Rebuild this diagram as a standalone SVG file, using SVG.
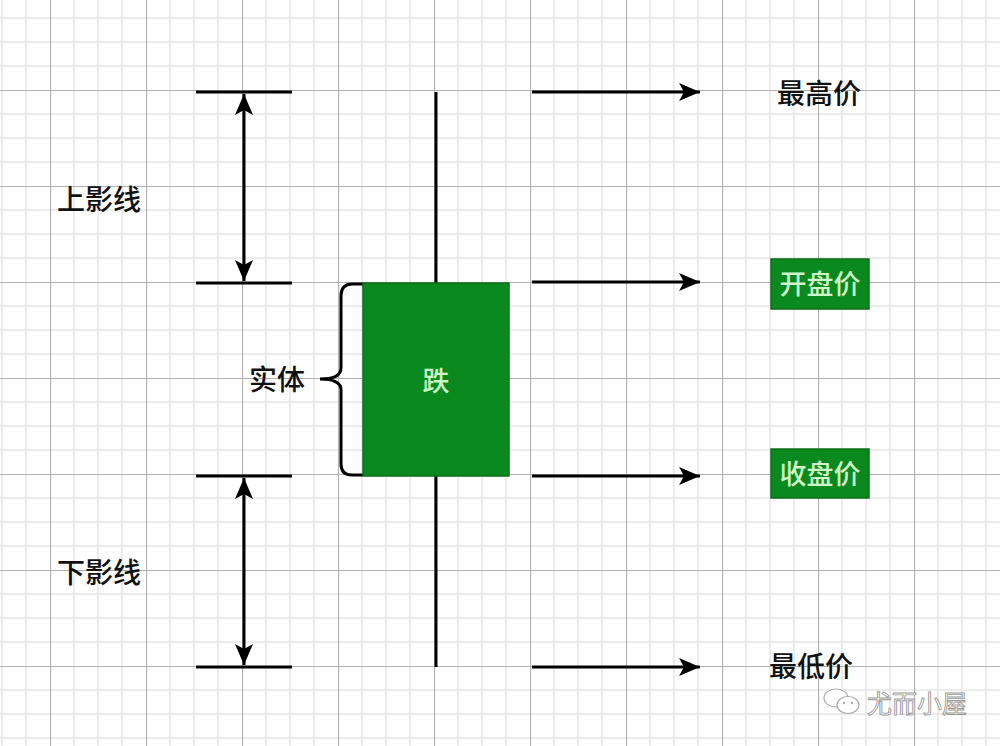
<svg xmlns="http://www.w3.org/2000/svg" width="1000" height="746" viewBox="0 0 1000 746">
<style>
.t{font-family:"Noto Sans CJK SC","Liberation Sans",sans-serif;font-size:28px;font-weight:500;fill:#111;dominant-baseline:central;}
.tl{font-family:"Noto Sans CJK SC","Liberation Sans",sans-serif;font-size:27px;font-weight:500;fill:#ccf5c8;dominant-baseline:central;text-anchor:middle;}
.ln{stroke:#000;stroke-width:3;fill:none;}
.ar{stroke:#000;stroke-width:3;fill:none;}
</style>
<defs>
<pattern id="grid" x="50" y="90" width="96" height="96" patternUnits="userSpaceOnUse">
<g stroke="#e6e6e6" stroke-width="1.5">
<line x1="24" y1="0" x2="24" y2="96"/><line x1="48" y1="0" x2="48" y2="96"/><line x1="72" y1="0" x2="72" y2="96"/>
<line x1="0" y1="24" x2="96" y2="24"/><line x1="0" y1="48" x2="96" y2="48"/><line x1="0" y1="72" x2="96" y2="72"/>
</g>
<g stroke="#b0b0b0" stroke-width="1.2">
<line x1="0.5" y1="0" x2="0.5" y2="96"/><line x1="0" y1="0.5" x2="96" y2="0.5"/>
</g>
</pattern>
<marker id="ah" markerWidth="24" markerHeight="20" refX="21" refY="10" orient="auto-start-reverse" markerUnits="userSpaceOnUse">
<path d="M0,1 L21,10 L0,19 L5,10 z" fill="#000"/>
</marker>
</defs>
<rect width="1000" height="746" fill="#fff"/>
<rect width="1000" height="746" fill="url(#grid)"/>

<g id="connectors">
<line class="ln" x1="196" y1="92" x2="292" y2="92"/>
<line class="ln" x1="196" y1="283" x2="292" y2="283"/>
<line class="ln" x1="196" y1="476" x2="292" y2="476"/>
<line class="ln" x1="196" y1="667" x2="292" y2="667"/>
<line class="ar" x1="244" y1="94" x2="244" y2="281" marker-start="url(#ah)" marker-end="url(#ah)"/>
<line class="ar" x1="244" y1="478" x2="244" y2="665" marker-start="url(#ah)" marker-end="url(#ah)"/>
<line class="ln" x1="436" y1="92" x2="436" y2="283"/>
<line class="ln" x1="436" y1="476" x2="436" y2="667"/>
<line class="ar" x1="532" y1="92" x2="700" y2="92" marker-end="url(#ah)"/>
<line class="ar" x1="532" y1="282" x2="700" y2="282" marker-end="url(#ah)"/>
<line class="ar" x1="532" y1="476" x2="700" y2="476" marker-end="url(#ah)"/>
<line class="ar" x1="532" y1="667" x2="700" y2="667" marker-end="url(#ah)"/>
<path class="ln" d="M363,284 L352,284 Q341,284 341,296 L341,368 Q341,379 320,379 Q341,379 341,390 L341,464 Q341,475 352,475 L363,475"/>
</g>

<g id="candle">
<rect x="363" y="283" width="146" height="193" fill="#0a8a1e" stroke="#0b6e18" stroke-width="1.5"/>
<text class="tl" x="436" y="379">跌</text>
</g>

<g id="label-upper"><text class="t" x="57" y="198">上影线</text></g>
<g id="label-lower"><text class="t" x="57" y="571">下影线</text></g>
<g id="label-body"><text class="t" x="249" y="378">实体</text></g>

<g id="high"><text class="t" x="777" y="92">最高价</text></g>
<g id="open">
<rect x="771" y="259" width="98" height="50" fill="#0a8a1e" stroke="#0b6e18" stroke-width="1.5"/>
<text class="tl" x="820" y="282">开盘价</text>
</g>
<g id="close">
<rect x="771" y="449" width="98" height="49" fill="#0a8a1e" stroke="#0b6e18" stroke-width="1.5"/>
<text class="tl" x="820" y="472">收盘价</text>
</g>
<g id="low"><text class="t" x="769" y="665">最低价</text></g>

<g id="watermark">
<ellipse cx="836" cy="698" rx="12" ry="9" fill="#fff" stroke="#aaa" stroke-width="1.2"/>
<ellipse cx="848" cy="705" rx="11" ry="8.5" fill="#fff" stroke="#aaa" stroke-width="1.2"/>
<circle cx="844" cy="703" r="1.2" fill="#aaa"/><circle cx="852" cy="703" r="1.2" fill="#aaa"/>
<text x="867" y="702" font-family="Noto Sans CJK SC,sans-serif" font-size="25" fill="#fff" stroke="#999" stroke-width="0.9" dominant-baseline="central">尤而小屋</text>
</g>
</svg>
